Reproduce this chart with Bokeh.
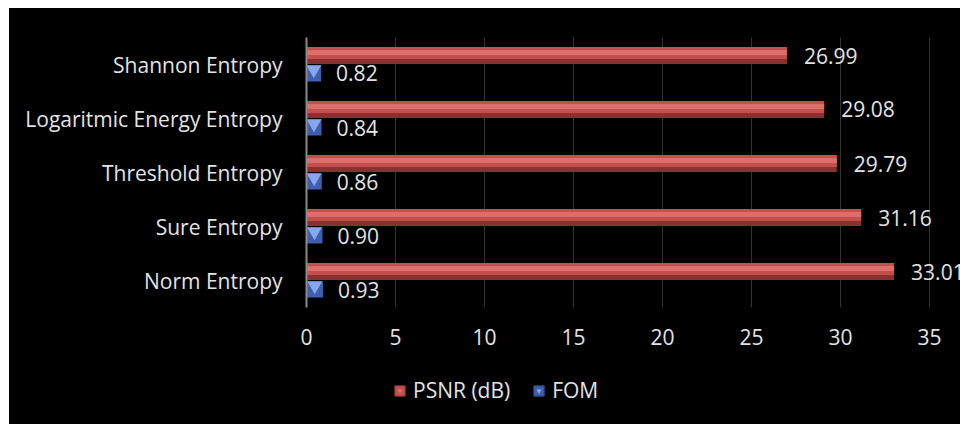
from bokeh.plotting import figure
from bokeh.layouts import column
from bokeh.models import (FactorRange, Range1d, FixedTicker, Legend, LegendItem,
                          ColumnDataSource)
from bokeh.transform import dodge
from bokeh.core.properties import value
from bokeh.embed import file_html
from bokeh.resources import INLINE

# ---- data ----
categories = ["Shannon Entropy", "Logaritmic Energy Entropy", "Threshold Entropy",
              "Sure Entropy", "Norm Entropy"]
psnr = [26.99, 29.08, 29.79, 31.16, 33.01]
fom = [0.82, 0.84, 0.86, 0.90, 0.93]
psnr_labels = ["26.99", "29.08", "29.79", "31.16", "33.01"]
fom_labels = ["0.82", "0.84", "0.86", "0.90", "0.93"]
x_ticks = [0, 5, 10, 15, 20, 25, 30, 35]
series_names = ["PSNR (dB)", "FOM"]

FONT = "Open Sans"
TXT = "#e3e3e3"
FS = "21px"
RED_DARK, RED, RED_HI = "#8a302e", "#c4504d", "#d96e6a"
BLUE, BLUE_HI = "#3f5fae", "#88a6ec"

src = ColumnDataSource(dict(cat=categories, psnr=psnr, fom=fom,
                            fom_half=[v / 2 for v in fom],
                            plab=psnr_labels, flab=fom_labels))

factors = list(reversed(categories))
p = figure(width=951, height=360, y_range=FactorRange(factors=factors, range_padding=0),
           x_range=Range1d(0, 36.74), output_backend="svg", toolbar_location=None,
           min_border_left=297, min_border_right=0, min_border_top=29, min_border_bottom=61)

p.background_fill_color = "black"
p.border_fill_color = "black"
p.outline_line_color = None

u = 1.0 / 54.0  # one pixel in category units
# PSNR bar: spans 0..+18 px above category centre
p.hbar(y=dodge("cat", 9 * u, range=p.y_range), right="psnr", left=0, height=17 * u,
       fill_color=RED_DARK, line_color=None, source=src)
p.hbar(y=dodge("cat", 11.5 * u, range=p.y_range), right="psnr", left=0, height=12 * u,
       fill_color=RED, line_color=None, source=src)
p.hbar(y=dodge("cat", 12 * u, range=p.y_range), right="psnr", left=0, height=5 * u,
       fill_color=RED_HI, line_color=None, source=src)
# FOM bar: spans -18..0 px
p.hbar(y=dodge("cat", -9 * u, range=p.y_range), right="fom", left=0, height=16 * u,
       fill_color=BLUE, line_color=None, source=src)
p.scatter(x="fom_half", y=dodge("cat", -5 * u, range=p.y_range), source=src,
          marker="inverted_triangle", size=15, fill_color=BLUE_HI, line_color=None)

# value labels
p.text(x="psnr", y=dodge("cat", 9 * u, range=p.y_range), text="plab", source=src,
       x_offset=17, text_baseline="middle", text_align="left",
       text_font=value(FONT), text_font_size=FS, text_color=TXT)
p.text(x="fom", y=dodge("cat", -9 * u, range=p.y_range), text="flab", source=src,
       x_offset=15, text_baseline="middle", text_align="left",
       text_font=value(FONT), text_font_size=FS, text_color=TXT)

# axes
p.xaxis.ticker = FixedTicker(ticks=x_ticks)
p.xaxis.axis_line_color = None
p.xaxis.major_tick_line_color = None
p.xaxis.minor_tick_line_color = None
p.xaxis.major_label_standoff = 15
p.xaxis.major_label_text_font = FONT
p.xaxis.major_label_text_font_size = FS
p.xaxis.major_label_text_color = TXT

p.yaxis.axis_line_color = "#8a8a8a"
p.yaxis.axis_line_width = 2
p.yaxis.major_tick_line_color = None
p.yaxis.minor_tick_line_color = None
p.yaxis.major_label_standoff = 18
p.yaxis.major_label_text_font = FONT
p.yaxis.major_label_text_font_size = FS
p.yaxis.major_label_text_color = TXT

p.xgrid.grid_line_color = "#333333"
p.xgrid.grid_line_width = 1
p.ygrid.grid_line_color = None

# ---- legend strip (separate figure below so it is not clipped) ----
q = figure(width=951, height=56, x_range=Range1d(0, 1), y_range=Range1d(0, 1),
           output_backend="svg", toolbar_location=None, x_axis_type=None, y_axis_type=None,
           min_border=0)
q.background_fill_color = "black"
q.border_fill_color = "black"
q.outline_line_color = None
q.grid.grid_line_color = None
off = ColumnDataSource(dict(x=[-5], y=[-5]))
lr1 = q.rect(x="x", y="y", width=1, height=1, fill_color=RED, line_color=RED_DARK, source=off)
lr2 = q.scatter(x="x", y="y", marker="inverted_triangle", size=9, fill_color=RED_HI,
                line_color=None, source=off)
lb1 = q.rect(x="x", y="y", width=1, height=1, fill_color=BLUE, line_color="#2c4686", source=off)
lb2 = q.scatter(x="x", y="y", marker="inverted_triangle", size=9, fill_color=BLUE_HI,
                line_color=None, source=off)
legend = Legend(items=[LegendItem(label=series_names[0], renderers=[lr1, lr2]),
                       LegendItem(label=series_names[1], renderers=[lb1, lb2])],
                orientation="horizontal", location=(87, 20),
                background_fill_alpha=0, border_line_color=None,
                padding=0, margin=0, spacing=22, label_standoff=7,
                glyph_width=13, glyph_height=13,
                label_text_font=FONT, label_text_font_size=FS, label_text_color=TXT)
q.add_layout(legend, "center")

layout = column(p, q, spacing=0,
                styles={"margin-top": "8px", "margin-left": "9px", "background-color": "black"})
open("out.html", "w").write(file_html(layout, INLINE))
